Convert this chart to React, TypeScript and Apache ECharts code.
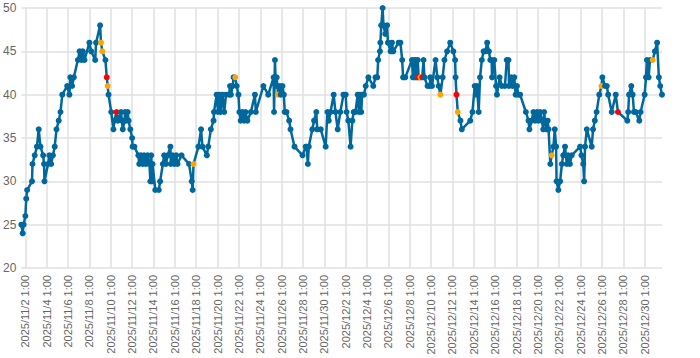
import React, { useEffect, useRef } from "react";
import * as echarts from "echarts";

// hours after 2025/11/2 1:00
const hours = [
  -9, -6, -4, 0, 2, 4, 15, 16, 21, 26,
  30, 34, 40, 42, 43, 51, 54, 58, 62, 66,
  70, 75, 79, 83, 94, 99, 101, 105, 109, 118,
  122, 126, 129, 133, 144, 148, 157, 159, 168, 170,
  173, 180, 183, 185, 187, 193, 198, 200, 205, 208,
  215, 217, 219, 223, 224, 226, 230, 232, 236, 240,
  241, 245, 254, 256, 260, 264, 267, 271, 275, 279,
  281, 283, 285, 286, 292, 300, 303, 309, 312, 316,
  320, 326, 327, 331, 335, 339, 342, 351, 368, 374,
  376, 378, 389, 395, 398, 408, 411, 417, 423, 424,
  430, 433, 436, 439, 443, 447, 451, 458, 460, 462,
  466, 468, 472, 475, 479, 481, 484, 488, 492, 495,
  499, 507, 516, 518, 535, 546, 558, 559, 561, 563,
  565, 568, 572, 574, 578, 581, 583, 587, 593, 596,
  605, 623, 630, 632, 635, 637, 645, 649, 654, 656,
  664, 675, 679, 682, 686, 693, 697, 702, 708, 715,
  720, 722, 726, 731, 735, 738, 742, 747, 750, 752,
  755, 757, 761, 765, 771, 782, 787, 791, 793, 797,
  798, 800, 803, 805, 809, 813, 815, 821, 824, 827,
  839, 843, 847, 849, 854, 869, 871, 874, 876, 878,
  880, 882, 884, 888, 892, 895, 897, 904, 909, 910,
  914, 922, 926, 929, 933, 938, 942, 948, 955, 962,
  966, 967, 969, 972, 978, 981, 1000, 1005, 1010, 1013,
  1015, 1019, 1022, 1026, 1030, 1034, 1038, 1042, 1045, 1048,
  1049, 1054, 1058, 1060, 1066, 1071, 1078, 1082, 1086, 1087,
  1092, 1095, 1099, 1102, 1105, 1108, 1112, 1125, 1131, 1133,
  1138, 1142, 1146, 1150, 1153, 1157, 1161, 1164, 1166, 1168,
  1172, 1174, 1176, 1180, 1183, 1187, 1190, 1193, 1194, 1198,
  1202, 1206, 1209, 1213, 1217, 1220, 1224, 1228, 1247, 1250,
  1254, 1256, 1258, 1262, 1273, 1276, 1280, 1284, 1290, 1295,
  1297, 1303, 1307, 1310, 1318, 1327, 1332, 1353, 1355, 1357,
  1362, 1365, 1368, 1372, 1380, 1383, 1392, 1395, 1397, 1401,
  1404, 1410, 1415, 1420, 1424, 1427, 1431,
];

const values = [
  25, 24, 25, 26, 28, 29, 30, 32, 33, 34,
  36, 34, 33, 32, 30, 32, 33, 32, 33, 34,
  36, 37, 38, 40, 41, 40, 42, 41, 42, 44,
  45, 44, 45, 44, 46, 45, 44, 46, 48, 46,
  45, 44, 42, 41, 40, 38, 36, 37, 38, 37,
  38, 37, 36, 37, 38, 37, 38, 37, 36, 35,
  34, 34, 33, 32, 33, 32, 33, 32, 33, 32,
  30, 33, 30, 32, 29, 29, 30, 32, 33, 32,
  33, 34, 32, 33, 32, 33, 32, 33, 32, 30,
  29, 32, 34, 36, 34, 33, 34, 36, 37, 38,
  40, 38, 40, 38, 40, 38, 40, 40, 41, 40,
  41, 42, 42, 41, 40, 38, 37, 38, 37, 38,
  37, 38, 40, 38, 41, 40, 42, 38, 44, 41,
  42, 40, 41, 40, 41, 40, 38, 38, 37, 36,
  34, 33, 34, 34, 32, 34, 36, 37, 38, 36,
  36, 34, 38, 37, 38, 40, 38, 36, 38, 40,
  40, 38, 37, 34, 37, 38, 38, 40, 38, 40,
  38, 40, 40, 41, 42, 41, 42, 42, 44, 45,
  46, 48, 50, 48, 47, 48, 46, 45, 46, 45,
  46, 46, 44, 42, 42, 44, 42, 44, 42, 44,
  42, 44, 42, 42, 42, 44, 42, 41, 41, 42,
  41, 44, 42, 41, 40, 42, 44, 45, 46, 45,
  44, 42, 40, 38, 37, 36, 37, 38, 41, 40,
  41, 38, 42, 44, 45, 45, 46, 45, 44, 44,
  42, 44, 41, 40, 42, 41, 41, 44, 44, 41,
  42, 41, 42, 40, 41, 40, 40, 38, 37, 36,
  37, 38, 37, 38, 37, 38, 37, 36, 38, 37,
  36, 37, 36, 32, 33, 34, 36, 34, 30, 29,
  30, 32, 33, 34, 32, 33, 32, 33, 34, 33,
  32, 30, 34, 36, 34, 36, 37, 38, 40, 41,
  42, 41, 41, 40, 38, 40, 38, 37, 38, 40,
  41, 40, 38, 38, 37, 38, 40, 42, 44, 42,
  44, 44, 45, 46, 42, 41, 40,
];

const orangeHours = [170, 173, 185, 378, 472, 568, 888, 933, 972, 1183, 1295, 1410];
const redHours = [183, 205, 884, 892, 969, 1332];

// x tick labels every 48 hours: 2025/11/2 1:00 ... 2025/12/30 1:00
const xTickHours = [
  0, 48, 96, 144, 192, 240, 288, 336, 384, 432,
  480, 528, 576, 624, 672, 720, 768, 816, 864, 912,
  960, 1008, 1056, 1104, 1152, 1200, 1248, 1296, 1344, 1392,
];

const yTicks = [20, 25, 30, 35, 40, 45, 50];

const START_UTC = Date.UTC(2025, 10, 2, 1, 0);

function formatHour(h: number): string {
  const d = new Date(START_UTC + h * 3600 * 1000);
  const mm = String(d.getUTCMinutes()).padStart(2, "0");
  return `${d.getUTCFullYear()}/${d.getUTCMonth() + 1}/${d.getUTCDate()} ${d.getUTCHours()}:${mm}`;
}

const BLUE = "#00689d";
const ORANGE = "#ffa500";
const RED = "#ff0000";

export default function App() {
  const ref = useRef<HTMLDivElement>(null);
  useEffect(() => {
    document.body.style.margin = "0";
    if (!ref.current) return;
    const chart = echarts.init(ref.current, null, { renderer: "svg" });
    const data = hours.map((h, i) => {
      let color = BLUE;
      if (orangeHours.includes(h)) color = ORANGE;
      if (redHours.includes(h)) color = RED;
      return { value: [h, values[i]], itemStyle: { color } };
    });
    chart.setOption({
      animation: false,
      backgroundColor: "#ffffff",
      grid: { left: 20, right: 38, top: 8, bottom: 90, containLabel: false },
      xAxis: {
        type: "value",
        min: hours[0],
        max: hours[hours.length - 1],
        axisLine: { show: false },
        axisTick: { show: false, customValues: xTickHours },
        splitLine: {
          show: true,
          lineStyle: { color: "#e0e0e0", width: 1.5 },
        },
        axisLabel: {
          customValues: xTickHours,
          rotate: 90,
          margin: 7,
          fontSize: 11,
          color: "#666666",
          fontFamily: "Liberation Sans, Arial, sans-serif",
          formatter: (v: number) => formatHour(v),
        },
      },
      yAxis: {
        type: "value",
        min: yTicks[0],
        max: yTicks[yTicks.length - 1],
        interval: 5,
        axisLine: { show: false },
        axisTick: { show: false },
        splitLine: { show: true, lineStyle: { color: "#e0e0e0", width: 1.5 } },
        axisLabel: {
          margin: 5,
          fontSize: 12,
          color: "#666666",
          fontFamily: "Liberation Sans, Arial, sans-serif",
        },
      },
      series: [
        {
          type: "line",
          data,
          symbol: "circle",
          symbolSize: 6,
          showAllSymbol: true,
          lineStyle: { color: BLUE, width: 2.5 },
          itemStyle: { color: BLUE },
        },
      ],
    });
    return () => chart.dispose();
  }, []);
  return <div ref={ref} style={{ width: 700, height: 358 }} />;
}
